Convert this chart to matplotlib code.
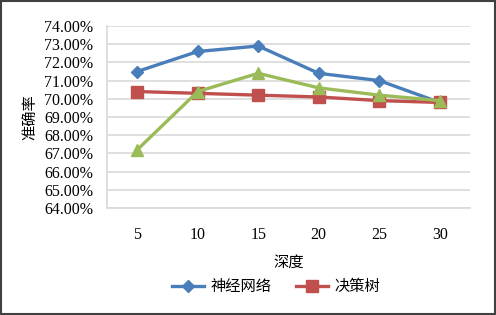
import matplotlib.pyplot as plt
import matplotlib.patches as patches

plt.rcParams['font.family'] = ['Liberation Serif', 'Noto Sans CJK SC']

depth = ['5', '10', '15', '20', '25', '30']
nn = [71.5, 72.6, 72.9, 71.4, 71.0, 69.8]
tree = [70.4, 70.3, 70.2, 70.1, 69.9, 69.8]
third = [67.2, 70.4, 71.4, 70.6, 70.2, 69.9]
yticks = [64, 65, 66, 67, 68, 69, 70, 71, 72, 73, 74]

fig = plt.figure(figsize=(4.96, 3.15), dpi=100)
ax = fig.add_axes([107/496, 1 - 208/315, 363/496, 182/315])

x = list(range(len(depth)))
ax.plot(x, nn, color='#4A7EBB', lw=2.4, marker='D', ms=6, label='神经网络', zorder=3)
ax.plot(x, tree, color='#C0504D', lw=2.4, marker='s', ms=8, label='决策树', zorder=3)
ax.plot(x, third, color='#9BBB59', lw=2.4, marker='^', ms=8, zorder=3)

ax.set_xlim(-0.5, len(depth) - 0.5)
ax.set_ylim(64, 74)
ax.set_yticks(yticks)
ax.set_yticklabels(['%.2f%%' % v for v in yticks], fontsize=11.5)
ax.set_xticks(x)
ax.set_xticklabels(depth, fontsize=11.5)
ax.tick_params(axis='y', length=0, pad=10)
ax.tick_params(axis='x', length=0, pad=14)
ax.grid(axis='y', color='#d9d9d9', lw=1.2)
ax.set_axisbelow(True)
for s in ['top', 'right']:
    ax.spines[s].set_visible(False)
ax.spines['left'].set_color('#d9d9d9')
ax.spines['bottom'].set_color('#d9d9d9')
ax.spines['left'].set_linewidth(1.2)
ax.spines['bottom'].set_linewidth(1.2)

ax.set_xlabel('深度', fontsize=11, labelpad=9)
ax.set_ylabel('准确率', fontsize=11, labelpad=5)

fig.legend(loc='center', bbox_to_anchor=(276/496, 1 - 287/315), ncol=2, frameon=False,
           fontsize=11, handlelength=2.1, handletextpad=0.4, columnspacing=1.6)

fig.patches.append(patches.Rectangle((0.002, 0.003), 0.995, 0.994, transform=fig.transFigure,
                                     fill=False, edgecolor='#404040', lw=1.5))

fig.savefig('out.png', dpi=100)
